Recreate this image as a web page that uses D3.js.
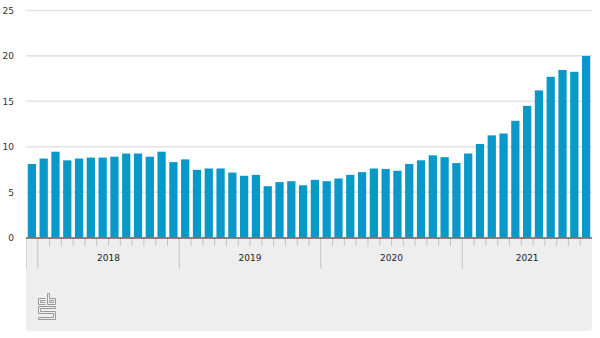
<html>
<head>
  <style>
    body { margin: 0; background: #fff; }
    svg { display: block; font-family: "DejaVu Sans", Verdana, sans-serif; }
  </style>
</head>
<body>
  <div id="chart"></div>
  <script src="https://d3js.org/d3.v7.min.js"></script>
  <script>
  'use strict';

  // months Dec 2017 .. Nov 2021
  var months = [];
  (function () {
    var yr = 2017, m = 12;
    for (var i = 0; i < 48; i++) {
      months.push(yr + '-' + (m < 10 ? '0' + m : m));
      m++; if (m > 12) { m = 1; yr++; }
    }
  })();

  var years = ['2018', '2019', '2020', '2021'];

  var values = [
    8.1,
    8.7, 9.45, 8.5, 8.7, 8.8, 8.8, 8.9, 9.25, 9.25, 8.9, 9.45, 8.3,
    8.6, 7.45, 7.6, 7.6, 7.15, 6.8, 6.9, 5.65, 6.1, 6.2, 5.75, 6.35,
    6.2, 6.5, 6.9, 7.2, 7.6, 7.55, 7.35, 8.1, 8.5, 9.05, 8.85, 8.2,
    9.25, 10.3, 11.25, 11.45, 12.85, 14.5, 16.2, 17.7, 18.45, 18.25, 20.0
  ];

  var yTicks = [0, 5, 10, 15, 20, 25];

  (function () {
    var width = 600, height = 338;
    var left = 26, right = 592, plotTop = 10.5, base = 237.5;

    var svg = d3.select('#chart').append('svg')
      .attr('width', width).attr('height', height);

    var x = d3.scaleBand().domain(months).range([left, right]).paddingInner(0.3).paddingOuter(0.15);
    var y = d3.scaleLinear().domain([0, 25]).range([base, plotTop]);
    var step = x.step();

    // grey footer band
    svg.append('path')
      .attr('d', 'M' + left + ',' + base + 'H' + right + 'V' + 327 +
        'Q' + right + ',331 ' + (right - 4) + ',331H' + (left + 4) +
        'Q' + left + ',331 ' + left + ',327Z')
      .attr('fill', '#eeeeee');

    // grid
    svg.append('g').selectAll('line').data(yTicks.filter(d => d > 0)).join('line')
      .attr('x1', left).attr('x2', right)
      .attr('y1', d => y(d)).attr('y2', d => y(d))
      .attr('stroke', '#e4e4e4').attr('stroke-width', 1.6);

    // y labels
    svg.append('g').selectAll('text').data(yTicks).join('text')
      .attr('x', 14).attr('y', d => y(d) + 3.5)
      .attr('text-anchor', 'end')
      .attr('font-size', 9).attr('fill', '#333')
      .text(d => d);

    // bars
    svg.append('g').selectAll('rect').data(values).join('rect')
      .attr('x', (d, i) => x(months[i]))
      .attr('width', x.bandwidth())
      .attr('y', d => y(d))
      .attr('height', d => y(0) - y(d))
      .attr('fill', '#0a98c8');

    // month ticks
    var bounds = d3.range(1, months.length);
    svg.append('g').selectAll('line').data(bounds).join('line')
      .attr('x1', i => left + i * step).attr('x2', i => left + i * step)
      .attr('y1', base).attr('y2', d => months[d].slice(5) === '01' ? 269 : 246)
      .attr('stroke', '#c4c4c4').attr('stroke-width', 1);

    svg.append('line')
      .attr('x1', left + 0.5).attr('x2', left + 0.5)
      .attr('y1', base).attr('y2', 269)
      .attr('stroke', '#d6d6d6');

    // axis line
    svg.append('line')
      .attr('x1', left).attr('x2', right)
      .attr('y1', base + 0.5).attr('y2', base + 0.5)
      .attr('stroke', '#6e5e58').attr('stroke-width', 1.6);

    // year labels
    svg.append('g').selectAll('text').data(years).join('text')
      .attr('x', d => {
        var a = months.indexOf(d + '-01');
        var b = Math.min(a + 12, months.length);
        return left + (a + b) / 2 * step;
      })
      .attr('y', 261)
      .attr('text-anchor', 'middle')
      .attr('font-size', 9).attr('fill', '#222')
      .text(d => d);

    // cbs logo
    var logo = svg.append('g').attr('transform', 'translate(38,293)')
      .attr('fill', 'none').attr('stroke', '#9a9a9a').attr('stroke-width', 1);
    logo.append('path').attr('d', 'M0.5,5.5H7.5M0.5,5.5V11.5H7.5M2.5,7.5V9.5H7.5M2.5,7.5H7.5');
    logo.append('path').attr('d', 'M9.5,0.5V11.5H17.5V5.5H11.5V0.5ZM11.5,7.5V9.5H15.5V7.5Z');
    logo.append('path').attr('d', 'M0.5,13.5H17.5V15.5H2.5V18.5H17.5V26.5H0.5V24.5H15.5V20.5H0.5Z');
  })();
  </script>
</body>
</html>
